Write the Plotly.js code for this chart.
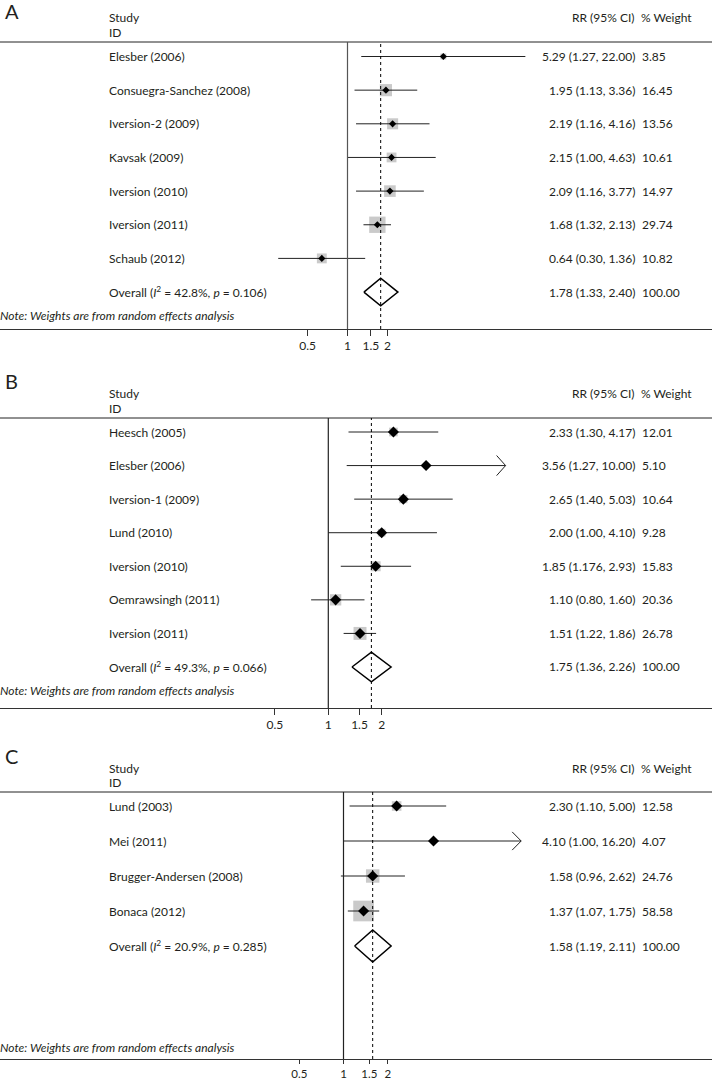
<!DOCTYPE html>
<html>
<head>
<meta charset="utf-8">
<script src="https://cdn.plot.ly/plotly-3.0.1.min.js"></script>
<style>html,body{margin:0;padding:0;background:#fff;}#chart{width:712px;height:1082px;}</style>
</head>
<body>
<div id="chart"></div>
<script>
// ---------------- DATA ----------------
const studiesA = ['Elesber (2006)','Consuegra-Sanchez (2008)','Iversion-2 (2009)','Kavsak (2009)','Iversion (2010)','Iversion (2011)','Schaub (2012)'];
const rrA = [5.29, 1.95, 2.19, 2.15, 2.09, 1.68, 0.64];
const loA = [1.27, 1.13, 1.16, 1.00, 1.16, 1.32, 0.30];
const hiA = [22.00, 3.36, 4.16, 4.63, 3.77, 2.13, 1.36];
const wA  = [3.85, 16.45, 13.56, 10.61, 14.97, 29.74, 10.82];
const overallA = [1.78, 1.33, 2.40];
const hetA = [42.8, 0.106];
const arrowsA = [];

const studiesB = ['Heesch (2005)','Elesber (2006)','Iversion-1 (2009)','Lund (2010)','Iversion (2010)','Oemrawsingh (2011)','Iversion (2011)'];
const rrB = [2.33, 3.56, 2.65, 2.00, 1.85, 1.10, 1.51];
const loB = [1.30, 1.27, 1.40, 1.00, 1.176, 0.80, 1.22];
const hiB = [4.17, 10.00, 5.03, 4.10, 2.93, 1.60, 1.86];
const wB  = [12.01, 5.10, 10.64, 9.28, 15.83, 20.36, 26.78];
const overallB = [1.75, 1.36, 2.26];
const hetB = [49.3, 0.066];
const arrowsB = [1];

const studiesC = ['Lund (2003)','Mei (2011)','Brugger-Andersen (2008)','Bonaca (2012)'];
const rrC = [2.30, 4.10, 1.58, 1.37];
const loC = [1.10, 1.00, 0.96, 1.07];
const hiC = [5.00, 16.20, 2.62, 1.75];
const wC  = [12.58, 4.07, 24.76, 58.58];
const overallC = [1.58, 1.19, 2.11];
const hetC = [20.9, 0.285];
const arrowsC = [1];

const tickVals = [0.5, 1, 1.5, 2];
const tickText = ['0.5', '1', '1.5', '2'];
const panelLetters = ['A', 'B', 'C'];
const noteText = 'Note: Weights are from random effects analysis';

// ---------------- LAYOUT HELPERS ----------------
const W = 712, H = 1082;
const X = px => px / W;
const Y = py => 1 - py / H;
const FONT = 'Lato, "Open Sans", sans-serif';
const TXT = '#231f20';
const FS = 12;

function fmt(v) {
  const s = String(v);
  const dec = s.includes('.') ? s.split('.')[1].length : 0;
  return v.toFixed(Math.max(2, dec));
}

const panels = [
  { studies: studiesA, rr: rrA, lo: loA, hi: hiA, w: wA, overall: overallA, het: hetA, arrows: arrowsA,
    letterY: 11, rule: 42, axisY: 329, row0: 56.5, rowStep: 33.65, noteY: 316, tickLen: 6,
    pxOne: 347.5, pxPerDec: 132.5, box: 3.0, dia: 5.5, halfH: 0.41, arrowDy: 0.3, nullColor: '#555' },
  { studies: studiesB, rr: rrB, lo: loB, hi: hiB, w: wB, overall: overallB, het: hetB, arrows: arrowsB,
    letterY: 381, rule: 418, axisY: 708, row0: 432, rowStep: 33.57, noteY: 690, tickLen: 6,
    pxOne: 328.3, pxPerDec: 177.3, box: 2.5, dia: 8.5, halfH: 0.44, arrowDy: 0.3, nullColor: '#222' },
  { studies: studiesC, rr: rrC, lo: loC, hi: hiC, w: wC, overall: overallC, het: hetC, arrows: arrowsC,
    letterY: 756, rule: 792, axisY: 1059, row0: 806, rowStep: 35, noteY: 1047, tickLen: 4,
    pxOne: 343.5, pxPerDec: 146.9, box: 2.7, dia: 8.5, halfH: 0.46, arrowDy: 0.26, nullColor: '#222' }
];

const traces = [];
const annotations = [];
const shapes = [];
const layout = {
  width: W, height: H,
  margin: { l: 0, r: 0, t: 0, b: 0 },
  paper_bgcolor: '#fff', plot_bgcolor: 'rgba(0,0,0,0)',
  showlegend: false,
  font: { family: FONT, size: FS, color: TXT },
  hovermode: false
};

panels.forEach((p, k) => {
  const sfx = k === 0 ? '' : String(k + 1);
  const xa = 'x' + sfx, ya = 'y' + sfx;
  const n = p.studies.length;
  const idx = p.studies.map((_, i) => i);

  // axes
  const xr0 = (0 - p.pxOne) / p.pxPerDec;
  const xr1 = (W - p.pxOne) / p.pxPerDec;
  layout['xaxis' + sfx] = {
    type: 'log', domain: [0, 1], anchor: ya, range: [xr0, xr1],
    tickmode: 'array', tickvals: tickVals, ticktext: tickText,
    ticks: 'outside', ticklen: p.tickLen, tickwidth: 1, tickcolor: '#333',
    showline: true, linecolor: '#333', linewidth: 1,
    showgrid: false, zeroline: false, fixedrange: true,
    tickfont: { family: FONT, size: k === 2 ? 11.5 : FS, color: TXT }
  };
  const yTop = (p.rule - p.row0) / p.rowStep;
  const yBot = (p.axisY - p.row0) / p.rowStep;
  layout['yaxis' + sfx] = {
    domain: [Y(p.axisY), Y(p.rule)], anchor: xa, range: [yBot, yTop],
    visible: false, showgrid: false, zeroline: false, fixedrange: true
  };

  // weight boxes
  traces.push({
    type: 'scatter', mode: 'markers', xaxis: xa, yaxis: ya,
    x: p.rr, y: idx,
    marker: { symbol: 'square', color: '#b3b3b3', size: p.w.map(v => p.box * Math.sqrt(v)), line: { width: 0 } }
  });
  // CI lines
  const lx = [], ly = [];
  p.lo.forEach((v, i) => { lx.push(v, p.hi[i], null); ly.push(i, i, null); });
  traces.push({
    type: 'scatter', mode: 'lines', xaxis: xa, yaxis: ya, x: lx, y: ly,
    line: { color: '#222', width: 1 }
  });
  // arrows for truncated CIs
  if (p.arrows.length) {
    const f = Math.pow(10, -9 / p.pxPerDec);
    const ax = [], ay = [];
    p.arrows.forEach(i => {
      ax.push(p.hi[i] * f, p.hi[i], p.hi[i] * f, null);
      ay.push(i - p.arrowDy, i, i + p.arrowDy, null);
    });
    traces.push({
      type: 'scatter', mode: 'lines', xaxis: xa, yaxis: ya, x: ax, y: ay,
      line: { color: '#222', width: 1 }
    });
  }
  // point estimate diamonds
  traces.push({
    type: 'scatter', mode: 'markers', xaxis: xa, yaxis: ya,
    x: p.rr, y: idx,
    marker: { symbol: 'diamond', color: '#000', size: p.dia, line: { width: 0 } }
  });
  // overall diamond
  const [oe, ol, oh] = p.overall;
  traces.push({
    type: 'scatter', mode: 'lines', xaxis: xa, yaxis: ya,
    x: [ol, oe, oh, oe, ol], y: [n, n - p.halfH, n, n + p.halfH, n],
    line: { color: '#000', width: 1.5 }
  });

  // lines: rule, null line, overall dotted line
  shapes.push({ type: 'line', xref: 'paper', yref: 'paper', x0: 0, x1: 1, y0: Y(p.rule), y1: Y(p.rule), line: { color: '#222', width: 1 } });
  shapes.push({ type: 'line', xref: xa, yref: ya + ' domain', x0: 1, x1: 1, y0: 0, y1: 1, line: { color: p.nullColor, width: 1.2 } });
  shapes.push({ type: 'line', xref: xa, yref: ya + ' domain', x0: oe, x1: oe, y0: 0, y1: 1, line: { color: '#000', width: 1, dash: 'dot' } });

  // texts
  const a = (o) => annotations.push(Object.assign({ showarrow: false, font: { family: FONT, size: FS, color: TXT } }, o));
  a({ text: panelLetters[k], xref: 'paper', yref: 'paper', x: X(3), y: Y(p.letterY), xanchor: 'left', yanchor: 'middle', font: { family: FONT, size: 20, color: TXT } });
  a({ text: 'Study', xref: 'paper', yref: 'paper', x: X(107), y: Y(p.rule - 24), xanchor: 'left', yanchor: 'middle' });
  a({ text: 'ID', xref: 'paper', yref: 'paper', x: X(107), y: Y(p.rule - 9.5), xanchor: 'left', yanchor: 'middle' });
  a({ text: 'RR (95% CI)', xref: 'paper', yref: 'paper', x: X(637), y: Y(p.rule - 24), xanchor: 'right', yanchor: 'middle' });
  a({ text: '% Weight', xref: 'paper', yref: 'paper', x: X(639), y: Y(p.rule - 24), xanchor: 'left', yanchor: 'middle' });
  p.studies.forEach((s, i) => {
    a({ text: s, xref: 'paper', yref: ya, x: X(107), y: i, xanchor: 'left', yanchor: 'middle' });
    a({ text: p.rr[i].toFixed(2) + ' (' + fmt(p.lo[i]) + ', ' + fmt(p.hi[i]) + ')', xref: 'paper', yref: ya, x: X(637), y: i, xanchor: 'right', yanchor: 'middle' });
    a({ text: p.w[i].toFixed(2), xref: 'paper', yref: ya, x: X(640), y: i, xanchor: 'left', yanchor: 'middle' });
  });
  a({ text: 'Overall (<i>I</i><sup>2</sup> = ' + p.het[0].toFixed(1) + '%, <i>p</i> = ' + p.het[1].toFixed(3) + ')', xref: 'paper', yref: ya, x: X(107), y: n, xanchor: 'left', yanchor: 'middle' });
  a({ text: oe.toFixed(2) + ' (' + fmt(ol) + ', ' + fmt(oh) + ')', xref: 'paper', yref: ya, x: X(637), y: n, xanchor: 'right', yanchor: 'middle' });
  a({ text: (100).toFixed(2), xref: 'paper', yref: ya, x: X(640), y: n, xanchor: 'left', yanchor: 'middle' });
  a({ text: '<i>' + noteText + '</i>', xref: 'paper', yref: 'paper', x: X(-2), y: Y(p.noteY), xanchor: 'left', yanchor: 'middle' });
});

layout.annotations = annotations;
layout.shapes = shapes;

Plotly.newPlot('chart', traces, layout, { staticPlot: true, displayModeBar: false });
</script>
</body>
</html>
